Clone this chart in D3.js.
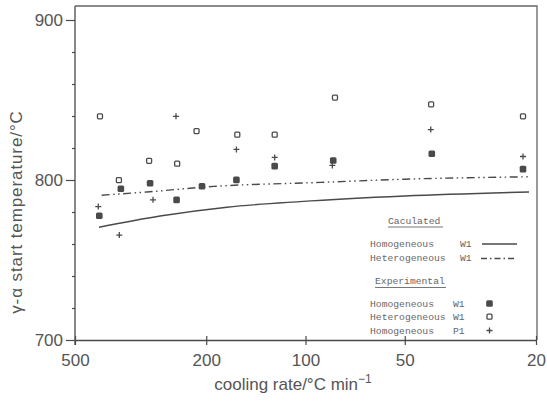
<!DOCTYPE html>
<html>
<head>
<meta charset="utf-8">
<script src="https://cdn.jsdelivr.net/npm/d3@7"></script>
<style>
  html, body { margin: 0; padding: 0; background: #fff; }
  svg { display: block; }
</style>
</head>
<body>
<svg id="chart" width="547" height="402"></svg>
<script>
// ---- data ----
const xTicks = [500, 200, 100, 50, 20];
const yTicksMajor = [700, 800, 900];
const yTicksMinor = [720, 740, 760, 780, 820, 840, 860, 880];

// calculated curves (rate, temperature)
const calcHomoW1Rate = [423, 276, 173, 104, 50, 21];
const calcHomoW1Temp = [770.5, 777.5, 783, 786.5, 790, 792.5];
const calcHeteroW1Rate = [415, 303, 190, 90, 50, 21];
const calcHeteroW1Temp = [790.5, 792.5, 796, 798.5, 800.5, 802];

// experimental
const expHomoW1Rate = [422, 363, 296, 246, 206, 162, 124, 82.4, 41.4, 21.9];
const expHomoW1Temp = [777.7, 794.5, 798, 787.6, 796.1, 800.1, 808.7, 812.2, 816.4, 806.8];
const expHeteroW1Rate = [420, 368, 298, 245, 214, 161, 124, 81.4, 41.6, 21.9];
const expHeteroW1Temp = [839.8, 799.9, 812, 810.2, 830.6, 828.3, 828.3, 851.5, 847.3, 839.8];
const expHomoP1Rate = [425, 367, 290, 247, 162, 124, 82.9, 41.7, 21.9];
const expHomoP1Temp = [783.4, 765.6, 787.6, 839.8, 819.1, 814.1, 809.1, 831.5, 814.7];

// ---- chart ----
const svg = d3.select("#chart");
const ink = "#4a4a4a";
const textCol = "#555";
const sansFont = "'Liberation Sans', Arial, sans-serif";
const monoFont = "'Liberation Mono', 'Courier New', monospace";

const x = d3.scaleLog().domain([500, 20]).range([75, 536]);
const y = d3.scaleLinear().domain([700, 900]).range([340, 20]);

// frame (top and right)
svg.append("path")
  .attr("d", `M${x(500)},6 L537,6 L537,${y(700)}`)
  .attr("fill", "none").attr("stroke", "#666").attr("stroke-width", 1.3);

// y axis
const yAxis = d3.axisLeft(y).tickValues(yTicksMajor).tickSize(9).tickSizeOuter(0).tickPadding(3)
  .tickFormat(d3.format("d"));
const gy = svg.append("g").attr("transform", `translate(${x(500)},0)`).call(yAxis);
gy.select(".domain").attr("d", `M0,6 V345`).attr("stroke", ink).attr("stroke-width", 1.3);
gy.selectAll(".tick line").attr("stroke", ink).attr("stroke-width", 1.2);
gy.selectAll(".tick text").attr("fill", textCol).attr("font-family", sansFont).attr("font-size", 17);

const yMinor = d3.axisLeft(y).tickValues(yTicksMinor).tickSize(3).tickFormat("");
const gym = svg.append("g").attr("transform", `translate(${x(500)},0)`).call(yMinor);
gym.select(".domain").remove();
gym.selectAll(".tick line").attr("stroke", ink).attr("stroke-width", 1.2);

// x axis
const xAxis = d3.axisBottom(x).tickValues(xTicks).tickSize(5).tickSizeOuter(0).tickPadding(9)
  .tickFormat(d3.format("d"));
const gx = svg.append("g").attr("transform", `translate(0,${y(700)})`).call(xAxis);
gx.select(".domain").attr("stroke", ink).attr("stroke-width", 1.3);
gx.selectAll(".tick line").attr("y1", -4).attr("stroke", ink).attr("stroke-width", 1.2);
gx.selectAll(".tick text").attr("fill", textCol).attr("font-family", sansFont).attr("font-size", 17);

// axis titles
const xt = svg.append("text")
  .attr("x", 293).attr("y", 390).attr("text-anchor", "middle")
  .attr("fill", textCol).attr("font-family", sansFont).attr("font-size", 17);
xt.append("tspan").text("cooling rate/°C min");
xt.append("tspan").attr("dy", -7).attr("font-size", 12).text("−1");

svg.append("text")
  .attr("transform", "translate(22,212) rotate(-90)")
  .attr("text-anchor", "middle")
  .attr("fill", textCol).attr("font-family", sansFont).attr("font-size", 17)
  .attr("letter-spacing", 0.9)
  .text("γ-α start temperature/°C");

// calculated lines
const line = d3.line().x(d => x(d[0])).y(d => y(d[1])).curve(d3.curveMonotoneX);
const homoCurve = calcHomoW1Rate.map((r, i) => [r, calcHomoW1Temp[i]]);
const heteroCurve = calcHeteroW1Rate.map((r, i) => [r, calcHeteroW1Temp[i]]);
const dashPattern = "8,3.5,1.5,3.5,1.5,3.5";

svg.append("path").datum(homoCurve).attr("d", line)
  .attr("fill", "none").attr("stroke", ink).attr("stroke-width", 1.4);
svg.append("path").datum(heteroCurve).attr("d", line)
  .attr("fill", "none").attr("stroke", ink).attr("stroke-width", 1.4)
  .attr("stroke-dasharray", dashPattern);

// markers
function filledSquare(g, cx, cy) {
  g.append("rect").attr("x", cx - 3.3).attr("y", cy - 3.3).attr("width", 6.6).attr("height", 6.6)
    .attr("rx", 1.5).attr("fill", ink);
}
function openSquare(g, cx, cy) {
  g.append("rect").attr("x", cx - 2.5).attr("y", cy - 2.5).attr("width", 5).attr("height", 5)
    .attr("rx", 1).attr("fill", "none").attr("stroke", ink).attr("stroke-width", 1.3);
}
function plus(g, cx, cy) {
  g.append("path").attr("d", `M${cx - 3},${cy} H${cx + 3} M${cx},${cy - 3} V${cy + 3}`)
    .attr("stroke", ink).attr("stroke-width", 1.3).attr("fill", "none");
}

const gm = svg.append("g");
expHeteroW1Rate.forEach((r, i) => openSquare(gm, x(r), y(expHeteroW1Temp[i])));
expHomoP1Rate.forEach((r, i) => plus(gm, x(r), y(expHomoP1Temp[i])));
expHomoW1Rate.forEach((r, i) => filledSquare(gm, x(r), y(expHomoW1Temp[i])));

// legend
const lg = svg.append("g").attr("font-family", monoFont).attr("font-size", 9.7).attr("fill", "#666");
lg.append("text").attr("x", 388).attr("y", 224).text("Caculated");
lg.append("line").attr("x1", 388).attr("x2", 443).attr("y1", 227).attr("y2", 227)
  .attr("stroke", "#777").attr("stroke-width", 1);
lg.append("text").attr("x", 370).attr("y", 247).text("Homogeneous");
lg.append("text").attr("x", 460).attr("y", 247).text("W1");
lg.append("line").attr("x1", 482).attr("x2", 517).attr("y1", 244).attr("y2", 244)
  .attr("stroke", ink).attr("stroke-width", 1.4);
lg.append("text").attr("x", 370).attr("y", 260.5).text("Heterogeneous");
lg.append("text").attr("x", 460).attr("y", 260.5).text("W1");
lg.append("line").attr("x1", 481).attr("x2", 517).attr("y1", 258.5).attr("y2", 258.5)
  .attr("stroke", ink).attr("stroke-width", 1.4).attr("stroke-dasharray", "6,3,1.5,3");

lg.append("text").attr("x", 375).attr("y", 284).text("Experimental");
lg.append("line").attr("x1", 375).attr("x2", 446).attr("y1", 287.5).attr("y2", 287.5)
  .attr("stroke", "#777").attr("stroke-width", 1);
const expRows = [["Homogeneous", "W1", 307], ["Heterogeneous", "W1", 320], ["Homogeneous", "P1", 333.5]];
expRows.forEach(([a, b, yy]) => {
  lg.append("text").attr("x", 370).attr("y", yy).text(a);
  lg.append("text").attr("x", 453).attr("y", yy).text(b);
});
filledSquare(lg, 489.5, 303.5);
openSquare(lg, 489.5, 316.7);
plus(lg, 489.5, 330.5);
</script>
</body>
</html>
